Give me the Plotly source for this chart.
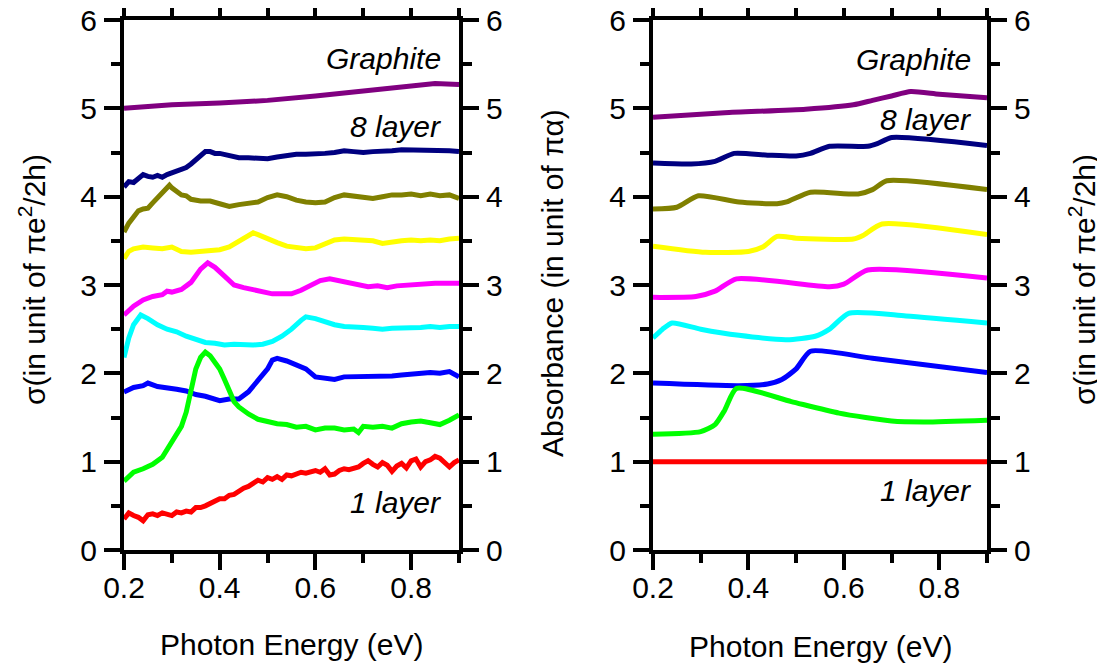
import plotly.graph_objects as go

# ---------------- Left panel data (sigma, measured) ----------------
L_graphite_x = [0.2, 0.3, 0.4, 0.5, 0.6, 0.7, 0.8, 0.85, 0.9]
L_graphite_y = [5.0, 5.04, 5.06, 5.09, 5.14, 5.2, 5.26, 5.28, 5.27]

L_8_x = [0.2, 0.21, 0.22, 0.23, 0.24, 0.25, 0.26, 0.27, 0.28, 0.29, 0.30, 0.31, 0.32, 0.33, 0.34, 0.35,
         0.36, 0.37, 0.38, 0.39, 0.40, 0.42, 0.44, 0.46, 0.48, 0.50, 0.52, 0.54, 0.56, 0.58, 0.60, 0.62,
         0.64, 0.66, 0.68, 0.70, 0.72, 0.74, 0.76, 0.78, 0.80, 0.82, 0.84, 0.86, 0.88, 0.9]
L_8_y = [4.11, 4.17, 4.16, 4.2, 4.25, 4.23, 4.22, 4.24, 4.22, 4.25, 4.27, 4.28, 4.3, 4.33, 4.37, 4.42,
         4.47, 4.51, 4.51, 4.49, 4.49, 4.46, 4.44, 4.44, 4.43, 4.43, 4.45, 4.47, 4.48, 4.48, 4.48, 4.49,
         4.5, 4.52, 4.51, 4.50, 4.51, 4.51, 4.52, 4.53, 4.53, 4.53, 4.52, 4.53, 4.52, 4.51]

L_7_x = [0.2, 0.21, 0.22, 0.23, 0.24, 0.25, 0.26, 0.27, 0.28, 0.29, 0.295, 0.30, 0.31, 0.32, 0.33, 0.34,
         0.36, 0.38, 0.40, 0.42, 0.44, 0.46, 0.48, 0.50, 0.52, 0.54, 0.56, 0.58, 0.60, 0.62, 0.64, 0.66,
         0.68, 0.70, 0.72, 0.74, 0.76, 0.78, 0.80, 0.82, 0.84, 0.86, 0.88, 0.9]
L_7_y = [3.6, 3.7, 3.77, 3.84, 3.86, 3.87, 3.93, 3.99, 4.04, 4.1, 4.13, 4.1, 4.06, 4.02, 4.01, 3.97,
         3.95, 3.95, 3.92, 3.89, 3.91, 3.92, 3.94, 3.99, 4.02, 4.0, 3.96, 3.94, 3.93, 3.94, 3.99, 4.02,
         4.01, 4.0, 3.98, 4.0, 4.02, 4.02, 4.03, 4.01, 4.03, 4.01, 4.02, 3.98]

L_6_x = [0.2, 0.21, 0.22, 0.24, 0.26, 0.28, 0.30, 0.31, 0.32, 0.34, 0.36, 0.38, 0.40, 0.42, 0.44, 0.46,
         0.47, 0.48, 0.50, 0.52, 0.54, 0.56, 0.58, 0.60, 0.62, 0.64, 0.66, 0.68, 0.70, 0.72, 0.74, 0.76,
         0.78, 0.80, 0.82, 0.84, 0.86, 0.88, 0.9]
L_6_y = [3.3, 3.38, 3.41, 3.43, 3.42, 3.41, 3.43, 3.4, 3.38, 3.37, 3.38, 3.39, 3.40, 3.43, 3.5, 3.57,
         3.59, 3.57, 3.52, 3.48, 3.44, 3.42, 3.41, 3.42, 3.47, 3.51, 3.52, 3.51, 3.51, 3.50, 3.47, 3.49,
         3.50, 3.51, 3.50, 3.51, 3.50, 3.52, 3.53]

L_5_x = [0.2, 0.22, 0.24, 0.26, 0.28, 0.29, 0.30, 0.32, 0.34, 0.36, 0.375, 0.39, 0.41, 0.43, 0.45, 0.47,
         0.49, 0.51, 0.53, 0.55, 0.57, 0.59, 0.61, 0.63, 0.65, 0.67, 0.69, 0.71, 0.73, 0.75, 0.77, 0.79,
         0.81, 0.83, 0.85, 0.87, 0.9]
L_5_y = [2.66, 2.76, 2.83, 2.87, 2.89, 2.93, 2.92, 2.95, 3.03, 3.18, 3.25, 3.2, 3.1, 3.0, 2.97, 2.95,
         2.92, 2.9, 2.9, 2.9, 2.94, 3.0, 3.05, 3.07, 3.05, 3.03, 3.0, 2.98, 2.99, 2.97, 2.99, 3.0,
         3.0, 3.01, 3.02, 3.02, 3.02]

L_4_x = [0.2, 0.21, 0.22, 0.235, 0.25, 0.27, 0.29, 0.31, 0.33, 0.35, 0.37, 0.39, 0.41, 0.43, 0.45, 0.47,
         0.49, 0.51, 0.53, 0.55, 0.57, 0.58, 0.60, 0.62, 0.64, 0.66, 0.68, 0.70, 0.72, 0.74, 0.76, 0.78,
         0.80, 0.82, 0.84, 0.86, 0.88, 0.9]
L_4_y = [2.18, 2.4, 2.55, 2.66, 2.62, 2.55, 2.5, 2.47, 2.42, 2.38, 2.35, 2.34, 2.32, 2.33, 2.32, 2.32,
         2.33, 2.36, 2.42, 2.5, 2.6, 2.64, 2.62, 2.58, 2.55, 2.53, 2.53, 2.52, 2.51, 2.5, 2.51, 2.51,
         2.52, 2.52, 2.53, 2.52, 2.53, 2.53]

L_3_x = [0.2, 0.22, 0.24, 0.25, 0.27, 0.29, 0.31, 0.33, 0.35, 0.37, 0.39, 0.40, 0.42, 0.44, 0.46, 0.48,
         0.50, 0.51, 0.52, 0.54, 0.56, 0.58, 0.60, 0.62, 0.64, 0.66, 0.68, 0.70, 0.72, 0.74, 0.76, 0.78,
         0.80, 0.82, 0.84, 0.86, 0.88, 0.9]
L_3_y = [1.79, 1.84, 1.86, 1.89, 1.85, 1.84, 1.82, 1.80, 1.76, 1.74, 1.71, 1.69, 1.71, 1.71, 1.79, 1.92,
         2.05, 2.15, 2.17, 2.14, 2.09, 2.05, 1.96, 1.95, 1.93, 1.96, 1.96, 1.97, 1.97, 1.96, 1.97, 1.98,
         1.99, 2.0, 2.01, 2.0, 2.02, 1.96]

L_2_x = [0.2, 0.21, 0.22, 0.24, 0.26, 0.28, 0.30, 0.32, 0.33, 0.34, 0.35, 0.36, 0.37, 0.38, 0.39, 0.40,
         0.41, 0.42, 0.43, 0.44, 0.46, 0.48, 0.50, 0.52, 0.54, 0.56, 0.58, 0.60, 0.62, 0.64, 0.66, 0.68,
         0.69, 0.70, 0.72, 0.74, 0.76, 0.78, 0.80, 0.82, 0.84, 0.86, 0.88, 0.9]
L_2_y = [0.78, 0.84, 0.88, 0.92, 0.97, 1.05, 1.22, 1.4, 1.56, 1.8, 2.05, 2.18, 2.24, 2.2, 2.12, 2.05,
         1.93, 1.8, 1.68, 1.62, 1.54, 1.48, 1.45, 1.43, 1.42, 1.39, 1.40, 1.36, 1.38, 1.38, 1.36, 1.37,
         1.33, 1.40, 1.39, 1.40, 1.38, 1.43, 1.45, 1.46, 1.44, 1.42, 1.47, 1.53]

L_1_x = [0.2, 0.21, 0.22, 0.23, 0.24, 0.25, 0.26, 0.27, 0.28, 0.29, 0.30, 0.31, 0.32, 0.33, 0.34, 0.35,
         0.36, 0.37, 0.38, 0.39, 0.40, 0.41, 0.42, 0.43, 0.44, 0.45, 0.46, 0.47, 0.48, 0.49, 0.50, 0.51,
         0.52, 0.53, 0.54, 0.55, 0.56, 0.57, 0.58, 0.59, 0.60, 0.61, 0.62, 0.63, 0.64, 0.65, 0.66, 0.67,
         0.68, 0.69, 0.70, 0.71, 0.72, 0.73, 0.74, 0.75, 0.76, 0.77, 0.78, 0.79, 0.80, 0.81, 0.82, 0.83,
         0.84, 0.85, 0.86, 0.87, 0.88, 0.89, 0.9]
L_1_y = [0.35, 0.42, 0.39, 0.37, 0.33, 0.40, 0.41, 0.39, 0.42, 0.41, 0.39, 0.43, 0.42, 0.44, 0.43, 0.48,
         0.48, 0.50, 0.53, 0.55, 0.58, 0.58, 0.62, 0.63, 0.67, 0.70, 0.72, 0.75, 0.79, 0.77, 0.82, 0.80,
         0.83, 0.80, 0.85, 0.84, 0.86, 0.88, 0.87, 0.89, 0.90, 0.88, 0.92, 0.85, 0.86, 0.90, 0.92, 0.91,
         0.92, 0.94, 0.98, 1.01, 0.97, 0.94, 0.99, 0.96, 0.89, 0.95, 0.98, 0.93, 1.01, 1.03, 0.94, 1.00,
         1.02, 1.06, 1.04, 0.98, 0.94, 0.99, 1.02]

# ---------------- Right panel data (absorbance, calculated) ----------------
R_graphite_x = [0.2, 0.35, 0.52, 0.62, 0.66, 0.70, 0.74, 0.8, 0.9]
R_graphite_y = [4.9, 4.95, 4.99, 5.04, 5.09, 5.14, 5.19, 5.16, 5.12]
R_8_x = [0.2, 0.28, 0.33, 0.37, 0.44, 0.50, 0.53, 0.57, 0.65, 0.67, 0.70, 0.9]
R_8_y = [4.38, 4.37, 4.40, 4.49, 4.47, 4.46, 4.49, 4.57, 4.57, 4.60, 4.67, 4.58]
R_7_x = [0.2, 0.25, 0.295, 0.38, 0.46, 0.48, 0.53, 0.63, 0.66, 0.69, 0.9]
R_7_y = [3.86, 3.88, 4.01, 3.94, 3.92, 3.94, 4.05, 4.03, 4.08, 4.18, 4.08]
R_6_x = [0.2, 0.31, 0.40, 0.43, 0.46, 0.50, 0.62, 0.64, 0.68, 0.9]
R_6_y = [3.44, 3.37, 3.38, 3.43, 3.55, 3.53, 3.52, 3.56, 3.69, 3.57]
R_5_x = [0.2, 0.29, 0.33, 0.375, 0.57, 0.60, 0.65, 0.9]
R_5_y = [2.86, 2.87, 2.93, 3.07, 2.98, 3.01, 3.17, 3.08]
R_4_x = [0.2, 0.22, 0.24, 0.3, 0.38, 0.48, 0.54, 0.57, 0.61, 0.73, 0.9]
R_4_y = [2.40, 2.5, 2.57, 2.50, 2.43, 2.38, 2.42, 2.5, 2.68, 2.65, 2.57]
R_3_x = [0.2, 0.38, 0.44, 0.47, 0.50, 0.53, 0.66, 0.9]
R_3_y = [1.89, 1.86, 1.88, 1.93, 2.05, 2.25, 2.17, 2.01]
R_2_x = [0.2, 0.3, 0.33, 0.35, 0.375, 0.49, 0.59, 0.7, 0.77, 0.9]
R_2_y = [1.31, 1.34, 1.42, 1.58, 1.83, 1.68, 1.55, 1.46, 1.45, 1.47]
R_1_x = [0.2, 0.9]
R_1_y = [1.0, 1.0]

colors = ["#800080", "#000080", "#808000", "#FFFF00", "#FF00FF",
          "#00FFFF", "#0000FF", "#00FF00", "#FF0000"]

left_series = [(L_graphite_x, L_graphite_y), (L_8_x, L_8_y), (L_7_x, L_7_y), (L_6_x, L_6_y),
               (L_5_x, L_5_y), (L_4_x, L_4_y), (L_3_x, L_3_y), (L_2_x, L_2_y), (L_1_x, L_1_y)]
right_series = [(R_graphite_x, R_graphite_y), (R_8_x, R_8_y), (R_7_x, R_7_y), (R_6_x, R_6_y),
                (R_5_x, R_5_y), (R_4_x, R_4_y), (R_3_x, R_3_y), (R_2_x, R_2_y), (R_1_x, R_1_y)]

x_ticks = [0.2, 0.4, 0.6, 0.8]
y_ticks = [0, 1, 2, 3, 4, 5, 6]

FONT = "Arial, 'Liberation Sans', sans-serif"
OFF = 8  # default page margin of the html body
W, H = 1105 - OFF, 668 - OFF

fig = go.Figure()
for (xs, ys), c in zip(left_series, colors):
    fig.add_trace(go.Scatter(x=xs, y=ys, mode="lines", line=dict(color=c, width=5),
                             xaxis="x", yaxis="y", showlegend=False, hoverinfo="skip"))
for (xs, ys), c in zip(right_series, colors):
    fig.add_trace(go.Scatter(x=xs, y=ys, mode="lines",
                             line=dict(color=c, width=5, shape="spline", smoothing=0.6),
                             xaxis="x2", yaxis="y3", showlegend=False, hoverinfo="skip"))
# invisible traces so the right-hand axes are drawn
fig.add_trace(go.Scatter(x=[0.2], y=[0], mode="markers", marker=dict(opacity=0),
                         xaxis="x", yaxis="y2", showlegend=False, hoverinfo="skip"))
fig.add_trace(go.Scatter(x=[0.2], y=[0], mode="markers", marker=dict(opacity=0),
                         xaxis="x2", yaxis="y4", showlegend=False, hoverinfo="skip"))

def px_x(p):
    return (p - OFF) / W

def px_y(p):
    return 1 - (p - OFF) / H

xdomL = [px_x(124), px_x(459)]
xdomR = [px_x(653), px_x(987)]
ydom = [px_y(550), px_y(20)]

tickfont = dict(family=FONT, size=30, color="black")

def xaxis_cfg(domain, anchor):
    return dict(domain=domain, anchor=anchor, range=[0.2, 0.9], tickvals=x_ticks,
                ticktext=[f"{v:.1f}" for v in x_ticks], automargin=False,
                showline=True, linewidth=4, linecolor="black", mirror="all",
                ticks="outside", ticklen=16, tickwidth=4, tickcolor="black",
                minor=dict(dtick=0.1, tick0=0.2, ticks="outside", ticklen=9, tickwidth=4, tickcolor="black"),
                showgrid=False, zeroline=False, tickfont=tickfont, ticklabelstandoff=-8,
                ticklabeloverflow="allow", fixedrange=True)

def yaxis_cfg(domain, anchor, side, overlaying=None):
    d = dict(domain=domain, anchor=anchor, range=[0, 6], tickvals=y_ticks,
             ticktext=[str(v) for v in y_ticks], side=side, automargin=False,
             showline=True, linewidth=4, linecolor="black",
             ticks="outside", ticklen=16, tickwidth=4, tickcolor="black",
             minor=dict(dtick=0.5, ticks="outside", ticklen=9, tickwidth=4, tickcolor="black"),
             showgrid=False, zeroline=False, tickfont=tickfont, ticklabelstandoff=1,
             ticklabeloverflow="allow", fixedrange=True)
    if overlaying:
        d["overlaying"] = overlaying
    return d

fig.update_layout(
    width=W, height=H,
    margin=dict(l=0, r=0, t=0, b=0, autoexpand=False),
    paper_bgcolor="white", plot_bgcolor="rgba(0,0,0,0)",
    xaxis=xaxis_cfg(xdomL, "y"),
    yaxis=yaxis_cfg(ydom, "x", "left"),
    yaxis2=yaxis_cfg(ydom, "x", "right", overlaying="y"),
    xaxis2=xaxis_cfg(xdomR, "y3"),
    yaxis3=yaxis_cfg(ydom, "x2", "left"),
    yaxis4=yaxis_cfg(ydom, "x2", "right", overlaying="y3"),
)

ann_font = dict(family=FONT, size=30, color="black")
title_font = dict(family=FONT, size=30, color="black")
annotations = [
    # left panel labels
    dict(text="<i>Graphite</i>", x=px_x(443), y=px_y(58), xanchor="right", yanchor="middle"),
    dict(text="<i>8 layer</i>", x=px_x(443), y=px_y(126), xanchor="right", yanchor="middle"),
    dict(text="<i>1 layer</i>", x=px_x(443), y=px_y(502), xanchor="right", yanchor="middle"),
    # right panel labels
    dict(text="<i>Graphite</i>", x=px_x(973), y=px_y(60), xanchor="right", yanchor="middle"),
    dict(text="<i>8 layer</i>", x=px_x(973), y=px_y(120), xanchor="right", yanchor="middle"),
    dict(text="<i>1 layer</i>", x=px_x(973), y=px_y(490), xanchor="right", yanchor="middle"),
]
for a in annotations:
    a.update(xref="paper", yref="paper", showarrow=False, font=ann_font)

titles = [
    dict(text="Photon Energy (eV)", x=px_x(291), y=px_y(644), textangle=0),
    dict(text="Photon Energy (eV)", x=px_x(820), y=px_y(646), textangle=0),
    dict(text="σ(in unit of πe<sup>2</sup>/2h)", x=px_x(32), y=px_y(280), textangle=-90),
    dict(text="Absorbance (in unit of πα)", x=px_x(552), y=px_y(283), textangle=-90),
    dict(text="σ(in unit of πe<sup>2</sup>/2h)", x=px_x(1082), y=px_y(280), textangle=-90),
]
for t in titles:
    t.update(xref="paper", yref="paper", showarrow=False, font=title_font,
             xanchor="center", yanchor="middle")

fig.update_layout(annotations=annotations + titles)

fig.write_html("out.html")
